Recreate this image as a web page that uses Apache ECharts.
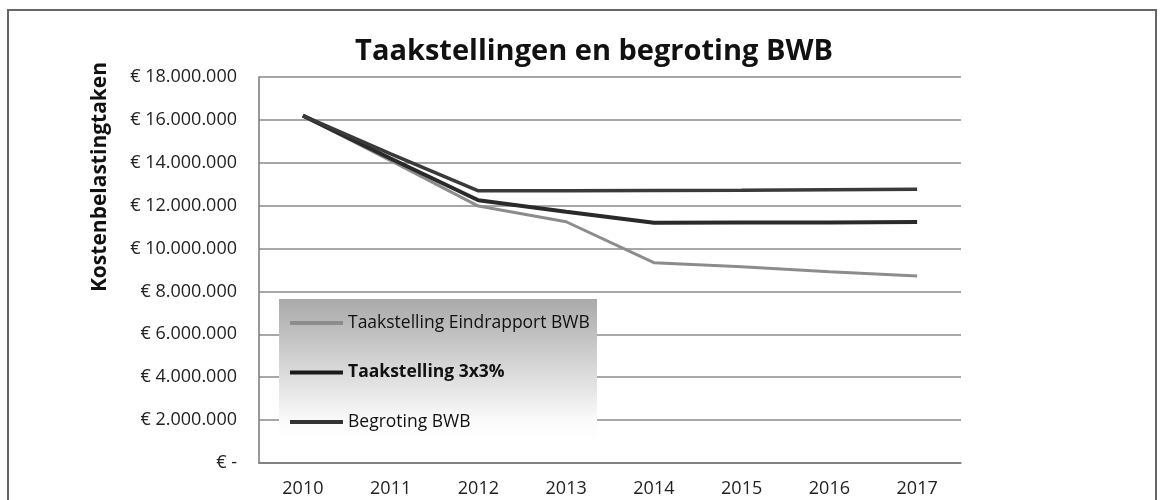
<!DOCTYPE html>
<html>
<head>
<meta charset="utf-8">
<script src="https://cdn.jsdelivr.net/npm/echarts@6/dist/echarts.min.js"></script>
<style>
  html, body { margin: 0; padding: 0; background: #fff; }
  #chart { width: 1160px; height: 500px; }
</style>
</head>
<body>
<div id="chart"></div>
<script>
var years = ["2010", "2011", "2012", "2013", "2014", "2015", "2016", "2017"];
var eindrapport = [16200000, 14100000, 11980000, 11250000, 9340000, 9150000, 8920000, 8720000];
var drieMaalDrie = [16200000, 14200000, 12250000, 11720000, 11200000, 11210000, 11220000, 11240000];
var begroting = [16200000, 14420000, 12690000, 12700000, 12710000, 12720000, 12740000, 12760000];
var seriesNames = ["Taakstelling Eindrapport BWB", "Taakstelling 3x3%", "Begroting BWB"];

var fontFam = "'Open Sans', 'Noto Sans', sans-serif";

var euro = function (v) {
  if (v === 0) return "€ -";
  var s = String(v).replace(/\B(?=(\d{3})+(?!\d))/g, ".");
  return "€ " + s;
};

var chart = echarts.init(document.getElementById("chart"));
var option = {
  backgroundColor: "#fff",
  animation: false,
  title: {
    text: "Taakstellingen en begroting BWB",
    left: 589,
    top: 32,
    textAlign: "center",
    textStyle: { fontFamily: fontFam, fontSize: 29, fontWeight: "bold", color: "#111" }
  },
  grid: { left: 259, right: 199, top: 77, bottom: 37 },
  legend: {
    orient: "vertical",
    left: 285,
    top: 309,
    icon: "rect",
    itemWidth: 53,
    itemHeight: 4,
    itemGap: 31.5,
    z: 5,
    data: seriesNames,
    formatter: function (name) {
      return name === "Taakstelling 3x3%" ? "{b|" + name + "}" : name;
    },
    textStyle: {
      fontFamily: fontFam, fontSize: 17.5, color: "#111",
      rich: { b: { fontFamily: fontFam, fontSize: 17.5, fontWeight: "bold", color: "#111" } }
    }
  },
  graphic: [
    {
      type: "rect",
      z: -10,
      shape: { x: 8, y: 10, width: 1148, height: 500 },
      style: { fill: "none", stroke: "#666", lineWidth: 2 }
    },
    {
      type: "rect",
      z: 3,
      shape: { x: 279, y: 299, width: 318, height: 142 },
      style: {
        fill: new echarts.graphic.LinearGradient(0, 0, 0, 1, [
          { offset: 0, color: "#a9a9a9" },
          { offset: 0.45, color: "#d4d4d4" },
          { offset: 0.85, color: "#fafafa" },
          { offset: 1, color: "#ffffff" }
        ])
      }
    },
    {
      type: "text",
      z: 5,
      x: 100,
      y: 177,
      rotation: Math.PI / 2,
      style: {
        text: "Kostenbelastingtaken",
        fontFamily: fontFam,
        fontSize: 21,
        fontWeight: "bold",
        fill: "#111",
        align: "center",
        verticalAlign: "middle"
      }
    }
  ],
  xAxis: {
    type: "category",
    data: years,
    boundaryGap: true,
    axisLine: { show: true, lineStyle: { color: "#777", width: 1.5 } },
    axisTick: { show: false },
    axisLabel: { margin: 17, fontFamily: fontFam, fontSize: 18, color: "#222" },
    splitLine: { show: false }
  },
  yAxis: {
    type: "value",
    min: 0,
    max: 18000000,
    interval: 2000000,
    axisLine: { show: true, lineStyle: { color: "#777", width: 1.5 } },
    axisTick: { show: false },
    axisLabel: { margin: 22, formatter: euro, fontFamily: fontFam, fontSize: 18, color: "#222" },
    splitLine: { show: true, lineStyle: { color: "#8a8a8a", width: 1.5 } }
  },
  series: [
    {
      name: seriesNames[0],
      type: "line",
      data: eindrapport,
      symbol: "none",
      z: 6,
      lineStyle: { color: "#8c8c8c", width: 3 },
      itemStyle: { color: "#8c8c8c" }
    },
    {
      name: seriesNames[1],
      type: "line",
      data: drieMaalDrie,
      symbol: "none",
      z: 7,
      lineStyle: { color: "#2a2a2a", width: 4 },
      itemStyle: { color: "#1a1a1a" }
    },
    {
      name: seriesNames[2],
      type: "line",
      data: begroting,
      symbol: "none",
      z: 8,
      lineStyle: { color: "#3a3a3a", width: 3.5 },
      itemStyle: { color: "#333" }
    }
  ]
};
chart.setOption(option);
</script>
</body>
</html>
